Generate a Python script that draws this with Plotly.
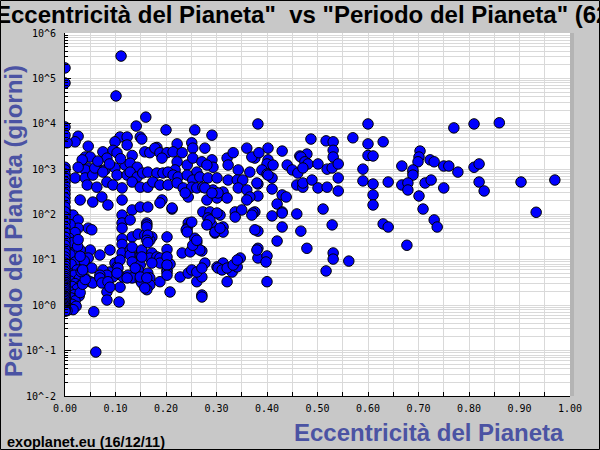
import plotly.graph_objects as go

# (eccentricity, period in days), grouped by region
outliers = [(0, 170000), (0, 79000), (0.111, 310000), (0.101, 41000), (0.16, 14000), (0.141, 8900),
            (0.2, 7300), (0.257, 7300), (0.291, 5600), (0.382, 9900), (0.6, 9900), (0.77, 8100),
            (0.81, 9900), (0.86, 10500), (0.061, 0.093), (0.057, 0.72)]

high_ecc = [(0.703, 2500), (0.701, 1850), (0.699, 1450), (0.723, 1600), (0.731, 1450), (0.75, 1170),
            (0.76, 1170), (0.778, 860), (0.81, 1100), (0.82, 1300), (0.82, 520), (0.83, 330),
            (0.713, 495), (0.725, 575), (0.75, 385), (0.701, 256), (0.709, 132), (0.731, 76),
            (0.737, 53), (0.689, 860), (0.903, 520), (0.97, 575), (0.933, 112)]

mid_ecc = [(0.487, 4600), (0.517, 4200), (0.531, 4000), (0.57, 4900), (0.6, 3600), (0.63, 4000),
           (0.402, 2900), (0.43, 2500), (0.531, 2600), (0.531, 1850), (0.465, 1950), (0.479, 2150),
           (0.6, 2000), (0.61, 1950), (0.376, 1750), (0.402, 1600), (0.4, 1300), (0.412, 1230),
           (0.39, 960), (0.4, 780), (0.41, 640), (0.402, 740), (0.44, 1230), (0.45, 960), (0.461, 820),
           (0.467, 1850), (0.475, 1450), (0.481, 1300), (0.471, 1060), (0.501, 1300), (0.519, 1000),
           (0.529, 1060), (0.541, 1300), (0.541, 640), (0.59, 1000), (0.59, 550), (0.61, 470), (0.61, 270),
           (0.61, 162), (0.64, 520), (0.667, 1170), (0.689, 960), (0.689, 740), (0.667, 447), (0.679, 495),
           (0.679, 347), (0.382, 470), (0.382, 256), (0.41, 365), (0.43, 270), (0.438, 243), (0.459, 447),
           (0.471, 400), (0.471, 495), (0.489, 575), (0.501, 385), (0.519, 400), (0.541, 330), (0.42, 170),
           (0.43, 114), (0.43, 108), (0.41, 93), (0.376, 114), (0.459, 103), (0.511, 132), (0.43, 53),
           (0.467, 43), (0.529, 59), (0.63, 62), (0.64, 53), (0.382, 43), (0.42, 26), (0.479, 18), (0.677, 21),
           (0.382, 18), (0.382, 11), (0.4, 12.2), (0.398, 9.0), (0.531, 14.2), (0.531, 10.4), (0.562, 9.4),
           (0.517, 5.7), (0.4, 3.3)]

dense_upper = [(0.026, 5300), (0.02, 4000), (0.004, 3800), (0.046, 3200), (0.109, 5100), (0.123, 5100),
               (0.099, 4000), (0.123, 3400), (0.149, 5100), (0.152, 4600), (0.182, 3000), (0.222, 3600),
               (0.251, 3800), (0.253, 2900), (0.277, 2900), (0.36, 2900), (0.37, 1850), (0.384, 2300),
               (0.04, 1850), (0.05, 1850), (0.034, 1600), (0.075, 2400), (0.095, 2600), (0.103, 2300),
               (0.083, 1750), (0.063, 1100), (0.046, 1060), (0.04, 960), (0.026, 1100), (0.079, 960),
               (0.099, 1060), (0.119, 1230), (0.133, 2000), (0.129, 1350), (0.143, 1100), (0.158, 2400),
               (0.168, 2300), (0.178, 2900), (0.188, 2300), (0.202, 2300), (0.192, 1750), (0.214, 2400),
               (0.232, 2300), (0.222, 1450), (0.218, 960), (0.242, 1230), (0.253, 1750), (0.271, 1450),
               (0.291, 1600), (0.293, 1100), (0.281, 1230), (0.261, 860), (0.321, 1750), (0.333, 2300),
               (0.323, 1230), (0.343, 960), (0.366, 860),
               (0.02, 640), (0.04, 640), (0.055, 740), (0.059, 1060), (0.075, 860), (0.103, 740), (0.123, 740),
               (0.129, 860), (0.143, 670), (0.154, 820), (0.164, 860), (0.182, 820), (0.194, 820), (0.204, 860),
               (0.214, 740), (0.224, 670), (0.242, 740), (0.253, 575), (0.267, 670), (0.283, 640), (0.301, 640),
               (0.323, 575), (0.341, 575), (0.352, 575), (0.38, 495),
               (0.044, 447), (0.063, 400), (0.083, 520), (0.095, 447), (0.113, 385), (0.133, 520), (0.149, 400),
               (0.164, 400), (0.174, 520), (0.188, 447), (0.204, 447), (0.222, 495), (0.234, 385), (0.251, 400),
               (0.261, 385), (0.273, 400), (0.293, 347), (0.313, 313), (0.301, 231), (0.321, 231), (0.343, 385),
               (0.36, 347), (0.366, 243), (0.36, 209),
               (0.03, 209), (0.055, 188), (0.073, 243), (0.085, 162), (0.113, 209), (0.133, 126), (0.149, 146),
               (0.164, 146), (0.192, 209), (0.212, 132), (0.244, 243), (0.281, 209), (0.238, 298), (0.273, 114),
               (0.287, 114), (0.307, 97), (0.337, 114), (0.35, 126), (0.372, 108),
               (0.004, 108), (0.016, 97), (0.026, 76), (0.046, 50), (0.113, 97), (0.113, 65), (0.129, 76),
               (0.162, 65), (0.244, 65), (0.242, 50), (0.283, 84), (0.291, 59), (0.313, 53), (0.337, 88),
               (0.37, 97), (0.065, 1500), (0.088, 1300), (0.11, 1700), (0.277, 385), (0.303, 298),
               (0.291, 298), (0.212, 139), (0.188, 180)]

dense_lower = [(0.026, 50), (0.053, 46), (0.113, 50), (0.162, 59), (0.133, 32), (0.145, 37), (0.158, 35),
               (0.172, 32), (0.168, 27), (0.113, 29), (0.113, 22), (0.202, 32), (0.24, 46), (0.297, 39),
               (0.313, 41), (0.257, 30), (0.261, 24), (0.251, 16.5), (0.271, 15.7), (0.202, 17), (0.232, 14.2),
               (0.089, 16.5), (0.069, 12.8), (0.05, 16.5), (0.046, 11), (0.016, 18), (0.01, 16.5),
               (0.113, 14.2), (0.129, 16.5), (0.129, 12.8), (0.149, 12.8), (0.152, 15), (0.172, 14.2),
               (0.168, 11), (0.182, 11.6), (0.188, 11),
               (0.133, 9.0), (0.149, 7.7), (0.145, 6.0), (0.188, 8.5), (0.202, 6.0), (0.202, 5.4), (0.164, 5.1),
               (0.168, 4.0), (0.158, 3.6), (0.162, 3.1), (0.099, 8.5), (0.103, 7.0), (0.089, 5.4), (0.089, 4.0),
               (0.095, 4.2), (0.075, 6.0), (0.083, 4.6), (0.069, 4.6), (0.115, 4.2), (0.125, 4.6), (0.133, 4.0),
               (0.149, 3.6), (0.152, 3.1), (0.109, 2.5), (0.083, 1.96), (0.083, 1.3), (0.107, 1.18), (0.168, 2.8),
               (0.188, 3.3), (0.208, 1.96), (0.162, 2.2), (0.208, 8.1),
               (0.228, 4.2), (0.244, 5.1), (0.261, 3.3), (0.271, 4.2), (0.277, 8.5), (0.301, 7.0), (0.313, 8.5),
               (0.321, 3.3), (0.331, 5.4), (0.341, 7.0), (0.347, 11), (0.38, 16.5), (0.271, 1.68), (0.303, 6.6),
               (0.311, 6.0), (0.248, 15), (0.267, 16.5), (0.253, 21), (0.261, 27),
               (0.036, 6.6), (0.044, 7.0), (0.053, 6.6), (0.026, 4.6), (0.02, 4.2), (0.04, 4.0), (0.03, 16.5),
               (0.014, 11), (0.016, 14.2), (0.014, 1.96), (0.01, 1.52), (0.006, 0.91),
               (0.016, 4.2), (0.006, 3.6), (0.03, 3.3), (0.05, 3.3), (0.055, 3.1), (0.069, 4.0), (0.073, 3.1),
               (0.085, 3.3), (0.089, 2.5), (0.01, 2.2), (0.01, 1.86),
               (0.109, 9.9), (0.105, 6.6), (0.103, 5.1), (0.123, 4.0), (0.133, 19), (0.152, 16.5), (0.152, 11.6),
               (0.139, 6.6), (0.149, 4.2), (0.162, 4.0), (0.158, 2.4),
               (0.172, 8.5), (0.202, 11.6), (0.202, 7.7), (0.202, 4.6), (0.251, 6.0), (0.261, 5.4), (0.271, 6.6),
               (0.271, 1.52), (0.251, 68), (0.242, 41), (0.287, 76), (0.281, 59), (0.297, 41), (0.307, 50),
               (0.301, 108), (0.376, 46), (0.321, 6.6), (0.333, 7.7), (0.341, 9.9),
               (0.162, 53), (0.164, 35), (0.162, 27), (0.164, 24)]

near_zero = [(0.01, 60), (0.02, 40), (0.008, 30), (0.015, 24), (0.025, 20), (0.01, 13), (0.02, 9), (0.012, 8),
             (0.024, 6), (0.008, 5), (0.018, 4.6), (0.028, 3.8), (0.01, 3.4), (0.02, 3.0), (0.03, 2.7),
             (0.014, 2.6), (0.024, 2.3), (0.008, 2.0), (0.018, 1.7), (0.028, 1.6), (0.012, 1.45), (0.02, 1.25),
             (0.006, 1.15), (0.014, 1.05), (0.022, 0.95), (0.008, 0.86), (0.016, 0.8), (0.004, 0.76),
             (0.03, 1.9), (0.035, 2.9), (0.04, 3.7), (0.032, 5.5), (0.038, 9.5), (0.03, 12), (0.026, 28),
             (0.035, 6)]

zero_ecc_periods = [8500, 5600, 1100, 960, 780, 640, 520, 425, 347, 283, 231, 188, 146, 114, 88, 68, 53, 41,
                    32, 26, 21, 17, 14, 11.6, 9.9, 8.5, 7.3, 6.3, 5.4, 4.8, 4.3, 3.9, 3.5, 3.2, 2.9, 2.7, 2.5,
                    2.3, 2.1, 1.9, 1.75, 1.6, 1.5, 1.4, 1.3, 1.2, 1.1, 1.03, 0.96, 0.9, 0.84, 0.78, 0.74]

y_tick_vals = [1e-2, 1e-1, 1e0, 1e1, 1e2, 1e3, 1e4, 1e5, 1e6]
y_tick_text = ["10^-2", "10^-1", "10^0", "10^1", "10^2", "10^3", "10^4", "10^5", "10^6"]

pairs = (outliers + high_ecc + mid_ecc + dense_upper + dense_lower + near_zero
         + [(0, p) for p in zero_ecc_periods])
ecc = [p[0] for p in pairs]
per = [p[1] for p in pairs]

minor_y = [m * 10.0 ** k for k in range(-2, 6) for m in range(2, 10)]

BG = "#c8c8c8"
BLUE_TXT = "#4b53a3"

fig = go.Figure()
fig.add_trace(go.Scatter(
    x=ecc, y=per, mode="markers",
    marker=dict(size=10.5, color="#0000ff", line=dict(color="black", width=1)),
    hoverinfo="x+y", showlegend=False))

W, H = 600, 450
L, R, T, B = 65, 30, 33, 54
pw, ph = W - L - R, H - T - B


def px_x(p):
    return (p - L) / pw


def px_y(p):
    return (H - B - p) / ph


fig.update_layout(
    width=W, height=H,
    margin=dict(l=L, r=R, t=T, b=B, pad=0),
    paper_bgcolor=BG, plot_bgcolor="white",
    showlegend=False,
    font=dict(family="DejaVu Sans Mono", size=10, color="black"),
    xaxis=dict(
        range=[0, 1], dtick=0.1, tick0=0, tickformat=".2f",
        ticks="inside", ticklen=4, tickcolor="black", tickwidth=1,
        showline=True, linecolor="black", linewidth=1, mirror=False,
        showgrid=True, gridcolor="#d9d9d9", gridwidth=1, zeroline=False,
        minor=dict(dtick=0.05, tick0=0, ticks="inside", ticklen=4, tickcolor="black",
                   showgrid=True, gridcolor="#d9d9d9", gridwidth=1),
        tickfont=dict(family="DejaVu Sans Mono", size=10, color="black"),
        ticklabelstandoff=3,
    ),
    yaxis=dict(
        type="log", range=[-2, 6],
        tickmode="array", tickvals=y_tick_vals, ticktext=y_tick_text,
        ticks="inside", ticklen=6, tickcolor="black", tickwidth=1,
        showline=True, linecolor="black", linewidth=1, mirror=False,
        showgrid=True, gridcolor="#d9d9d9", gridwidth=1, zeroline=False,
        minor=dict(tickmode="array", tickvals=minor_y, ticks="inside", ticklen=3,
                   tickcolor="black", showgrid=True, gridcolor="#d9d9d9", gridwidth=1),
        tickfont=dict(family="DejaVu Sans Mono", size=10, color="black"),
        ticklabelstandoff=6,
    ),
    shapes=[
        dict(type="rect", xref="paper", yref="paper",
             x0=1.0, x1=px_x(L + pw + 4), y0=0, y1=1,
             fillcolor="#b4b4b4", line=dict(width=0), layer="below"),
        dict(type="rect", xref="paper", yref="paper",
             x0=px_x(0.5), x1=px_x(599.5), y0=px_y(449.5), y1=px_y(0.5),
             line=dict(color="black", width=1), fillcolor="rgba(0,0,0,0)", layer="above"),
    ],
    annotations=[
        dict(text="<b>Eccentricità del Pianeta\"\u00a0 vs \"Periodo del Pianeta\" (62</b>",
             xref="paper", yref="paper", x=px_x(-7), y=px_y(14),
             xanchor="left", yanchor="middle", showarrow=False,
             font=dict(family="Liberation Sans", size=24, color="black")),
        dict(text="<b>Periodo del Pianeta (giorni)</b>", textangle=-90,
             xref="paper", yref="paper", x=px_x(13), y=px_y(221),
             xanchor="center", yanchor="middle", showarrow=False,
             font=dict(family="Liberation Sans", size=24, color=BLUE_TXT)),
        dict(text="<b>Eccentricità del Pianeta</b>",
             xref="paper", yref="paper", x=px_x(566), y=px_y(432),
             xanchor="right", yanchor="middle", showarrow=False,
             font=dict(family="Liberation Sans", size=24, color=BLUE_TXT)),
        dict(text="<b>exoplanet.eu (16/12/11)</b>",
             xref="paper", yref="paper", x=px_x(5), y=px_y(442),
             xanchor="left", yanchor="middle", showarrow=False,
             font=dict(family="Liberation Sans", size=14.5, color="black")),
    ],
)

fig.write_html("out.html")
